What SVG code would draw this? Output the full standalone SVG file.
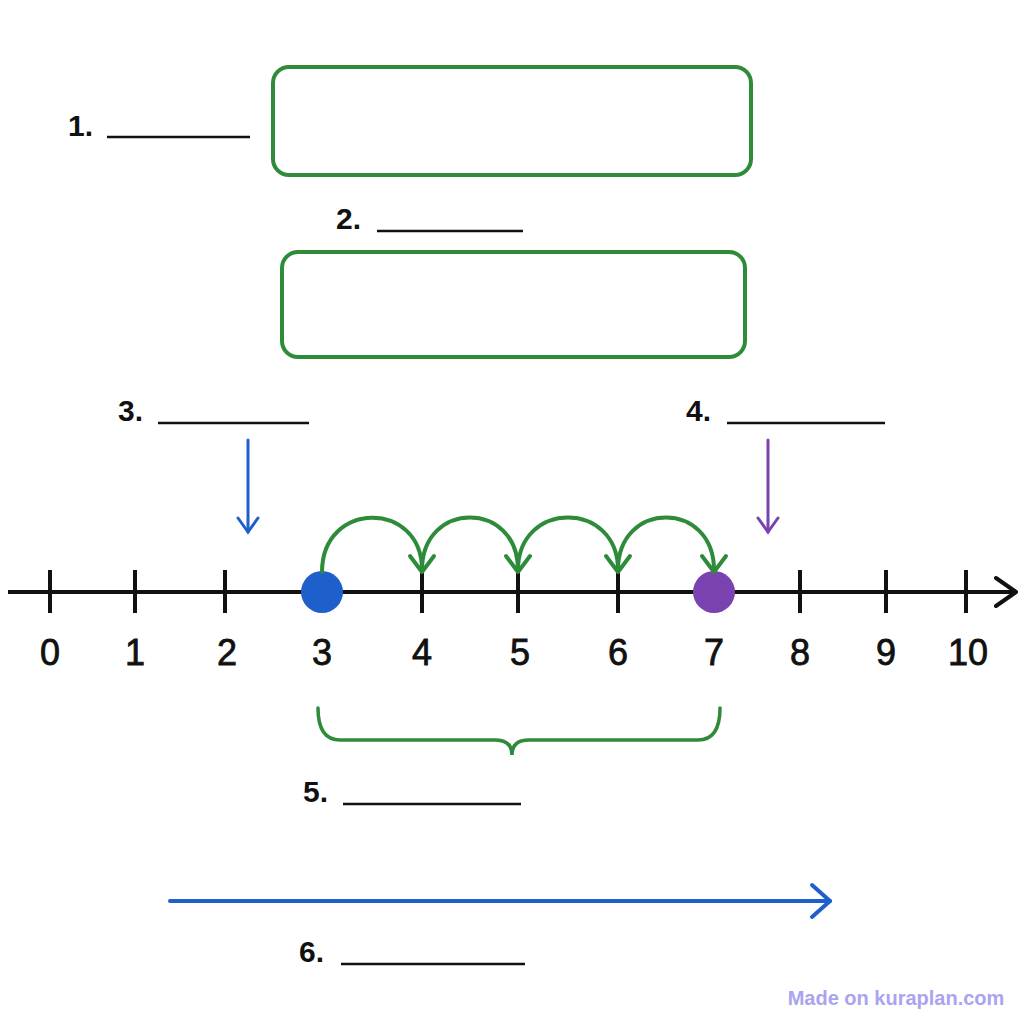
<svg xmlns="http://www.w3.org/2000/svg" width="1024" height="1024" viewBox="0 0 1024 1024">
<style>
.lbl{font-family:"Liberation Sans",Arial,sans-serif;font-size:30px;font-weight:bold;fill:#111}
.num{font-family:"Liberation Sans",Arial,sans-serif;font-size:36px;fill:#111;text-anchor:middle;stroke:#111;stroke-width:0.8}
.blank{stroke:#111;stroke-width:2.5}
.box{fill:none;stroke:#2e8b3a;stroke-width:4}
.tick{stroke:#111;stroke-width:4}
.jump{fill:none;stroke:#2e8b3a;stroke-width:4;stroke-linecap:round}
</style>
<rect width="1024" height="1024" fill="#fff"/>
<g id="label1"><text class="lbl" x="68" y="136">1.</text><line class="blank" x1="107" y1="137" x2="250" y2="137"/></g>
<g id="box1"><rect class="box" x="273" y="67" width="478" height="108" rx="16"/></g>
<g id="label2"><text class="lbl" x="336" y="229">2.</text><line class="blank" x1="377" y1="231" x2="523" y2="231"/></g>
<g id="box2"><rect class="box" x="282" y="252" width="463" height="105" rx="16"/></g>
<g id="label3"><text class="lbl" x="118" y="421">3.</text><line class="blank" x1="158" y1="423" x2="309" y2="423"/></g>
<g id="label4"><text class="lbl" x="686" y="421">4.</text><line class="blank" x1="727" y1="423" x2="885" y2="423"/></g>
<g id="numberline">
<line x1="8" y1="592" x2="1016" y2="592" stroke="#111" stroke-width="4"/>
<polyline points="996,578 1016,592 996,606" fill="none" stroke="#111" stroke-width="4" stroke-linecap="round" stroke-linejoin="round"/>
<g class="tick">
<line x1="50" y1="570" x2="50" y2="613"/><line x1="135" y1="570" x2="135" y2="613"/><line x1="225" y1="570" x2="225" y2="613"/><line x1="422" y1="570" x2="422" y2="613"/><line x1="518" y1="570" x2="518" y2="613"/><line x1="618" y1="570" x2="618" y2="613"/><line x1="800" y1="570" x2="800" y2="613"/><line x1="886" y1="570" x2="886" y2="613"/><line x1="966" y1="570" x2="966" y2="613"/>
</g>
<text class="num" x="50" y="665">0</text><text class="num" x="135" y="665">1</text><text class="num" x="227" y="665">2</text><text class="num" x="322" y="665">3</text><text class="num" x="422" y="665">4</text><text class="num" x="520" y="665">5</text><text class="num" x="618" y="665">6</text><text class="num" x="714" y="665">7</text><text class="num" x="800" y="665">8</text><text class="num" x="886" y="665">9</text><text class="num" x="968" y="665">10</text>
</g>
<g id="dots"><circle cx="322" cy="592" r="21" fill="#1f5fcc"/><circle cx="714" cy="592" r="21" fill="#7a42b0"/></g>
<g id="connectors">
<path class="jump" d="M322,572 C322,500 422,500 422,570"/>
<path class="jump" d="M422,570 C422,500 518,500 518,570"/>
<path class="jump" d="M518,570 C518,500 618,500 618,570"/>
<path class="jump" d="M618,570 C618,500 714,500 714,570"/>
<g fill="none" stroke="#2e8b3a" stroke-width="4" stroke-linecap="round" stroke-linejoin="round">
<polyline points="410,556 422,572 434,556"/><polyline points="506,556 518,572 530,556"/><polyline points="606,556 618,572 630,556"/><polyline points="702,556 714,572 726,556"/>
</g>
<g stroke="#1f5fcc" stroke-width="3" fill="none" stroke-linecap="round"><line x1="248" y1="440" x2="248" y2="532"/><polyline points="238,518 248,532 258,518"/></g>
<g stroke="#7a42b0" stroke-width="3" fill="none" stroke-linecap="round"><line x1="768" y1="440" x2="768" y2="532"/><polyline points="758,518 768,532 778,518"/></g>
<path d="M318,708 Q318,740 340,740 L495,740 Q512,740 512,755 Q512,740 529,740 L698,740 Q720,740 720,708" fill="none" stroke="#2e8b3a" stroke-width="3.5" stroke-linecap="round"/>
<g stroke="#1f5fcc" stroke-width="4" fill="none" stroke-linecap="round" stroke-linejoin="round"><line x1="170" y1="901" x2="830" y2="901"/><polyline points="812,885 830,901 812,917"/></g>
</g>
<g id="label5"><text class="lbl" x="303" y="802">5.</text><line class="blank" x1="343" y1="804" x2="521" y2="804"/></g>
<g id="label6"><text class="lbl" x="299" y="962">6.</text><line class="blank" x1="341" y1="964" x2="525" y2="964"/></g>
<text x="896" y="1005" font-family="'Liberation Sans',Arial,sans-serif" font-size="20" font-weight="bold" fill="#a9a4f0" text-anchor="middle">Made on kuraplan.com</text>
</svg>
